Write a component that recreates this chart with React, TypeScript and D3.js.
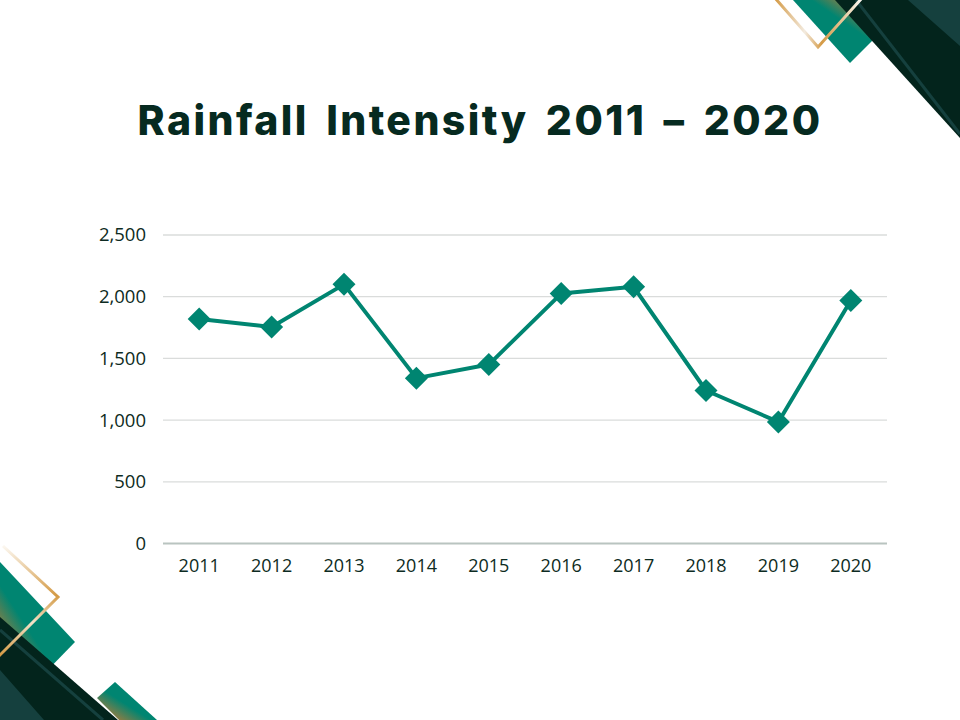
import React from "react";
import * as d3 from "d3";

const years = ["2011", "2012", "2013", "2014", "2015", "2016", "2017", "2018", "2019", "2020"];
const rainfall = [1820, 1755, 2100, 1340, 1450, 2025, 2080, 1240, 985, 1970];
const yTicks = [0, 500, 1000, 1500, 2000, 2500];
const title = "Rainfall Intensity 2011 – 2020";

const W = 960;
const H = 720;
const DARK = "#03241c";
const DARK2 = "#15403e";
const TEAL = "#008571";
const GOLD = "#d49a45";
const TEXT = "#0d2b22";

export default function App() {
  const x = d3.scaleBand<string>().domain(years).range([163, 887]);
  const y = d3.scaleLinear().domain([0, 2500]).range([543.5, 235]);
  const line = d3
    .line<number>()
    .x((_, i) => (x(years[i]) as number) + x.bandwidth() / 2)
    .y((d) => y(d));
  const fmt = d3.format(",");
  const half = 11.5;
  const diamond = `M0,${-half}L${half},0L0,${half}L${-half},0Z`;

  return (
    <svg
      width={W}
      height={H}
      viewBox={`0 0 ${W} ${H}`}
      style={{ position: "absolute", left: 0, top: 0, background: "#fff" }}
    >
      <defs>
        <linearGradient id="tealTR" x1="0" y1="1" x2="1" y2="0">
          <stop offset="0.6" stopColor={TEAL} />
          <stop offset="0.85" stopColor="#b87a36" />
        </linearGradient>
        <linearGradient id="tealBL" x1="1" y1="0" x2="0" y2="1">
          <stop offset="0.6" stopColor={TEAL} />
          <stop offset="0.85" stopColor="#b87a36" />
        </linearGradient>
        <linearGradient id="tealBL2" x1="1" y1="0" x2="0" y2="1">
          <stop offset="0.55" stopColor={TEAL} />
          <stop offset="0.9" stopColor="#b87a36" />
        </linearGradient>
        <linearGradient id="goldTR" gradientUnits="userSpaceOnUse" x1="775" y1="0" x2="860" y2="0">
          <stop offset="0" stopColor={GOLD} />
          <stop offset="0.35" stopColor="#f3ebe0" />
          <stop offset="0.55" stopColor={GOLD} />
          <stop offset="0.8" stopColor="#e6c79a" />
          <stop offset="1" stopColor="#fbf6ee" />
        </linearGradient>
        <linearGradient id="goldBL" gradientUnits="userSpaceOnUse" x1="0" y1="547" x2="0" y2="655">
          <stop offset="0" stopColor="#fbf6ee" />
          <stop offset="0.45" stopColor={GOLD} />
          <stop offset="0.7" stopColor="#f1e2c8" />
          <stop offset="1" stopColor={GOLD} />
        </linearGradient>
      </defs>

      {/* top-right decoration */}
      <polygon points="793,0 850,63 885,28 857,0" fill="url(#tealTR)" />
      <polygon points="835,0 960,0 960,138" fill={DARK} />
      <polygon points="908,0 960,0 960,46" fill={DARK2} />
      <line x1="856" y1="0" x2="960" y2="134" stroke={DARK2} strokeWidth={3} />
      <polyline points="775,-2 818,47 862,-2" fill="none" stroke="url(#goldTR)" strokeWidth={3} />

      {/* bottom-left decoration */}
      <polygon points="0,562 75,642 40,678 0,640" fill="url(#tealBL)" />
      <polygon points="97,698 115,682 157,720 119,720" fill="url(#tealBL2)" />
      <polygon points="0,617 118,720 0,720" fill={DARK} />
      <polygon points="0,670 0,720 44,720" fill={DARK2} />
      <line x1="0" y1="630" x2="103" y2="720" stroke={DARK2} strokeWidth={3} />
      <polyline points="3,546 58,597 -2,657" fill="none" stroke="url(#goldBL)" strokeWidth={3} />

      {/* title */}
      <text
        x={480}
        y={135}
        textAnchor="middle"
        fill="#062a20"
        fontFamily="Inter, 'Noto Sans', sans-serif"
        fontWeight={800}
        fontSize={41}
        letterSpacing={2.4}
        wordSpacing={6}
      >
        {title}
      </text>

      {/* grid */}
      {yTicks.map((t) => (
        <g key={t}>
          <line
            x1={163}
            x2={887}
            y1={y(t)}
            y2={y(t)}
            stroke={t === 0 ? "#b9c4c0" : "#dadcdb"}
            strokeWidth={t === 0 ? 2 : 1.3}
          />
          <text
            x={146}
            y={y(t)}
            dy="0.35em"
            textAnchor="end"
            fill={TEXT}
            fontFamily="'Open Sans', 'Noto Sans', sans-serif"
            fontSize={18.5}
          >
            {fmt(t)}
          </text>
        </g>
      ))}

      {years.map((yr) => (
        <text
          key={yr}
          x={(x(yr) as number) + x.bandwidth() / 2}
          y={572}
          textAnchor="middle"
          fill={TEXT}
          fontFamily="'Open Sans', 'Noto Sans', sans-serif"
          fontSize={18}
        >
          {yr}
        </text>
      ))}

      <path d={line(rainfall) || ""} fill="none" stroke={TEAL} strokeWidth={4} strokeLinejoin="round" />
      {rainfall.map((v, i) => (
        <path
          key={years[i]}
          d={diamond}
          transform={`translate(${(x(years[i]) as number) + x.bandwidth() / 2},${y(v)})`}
          fill={TEAL}
        />
      ))}
    </svg>
  );
}
